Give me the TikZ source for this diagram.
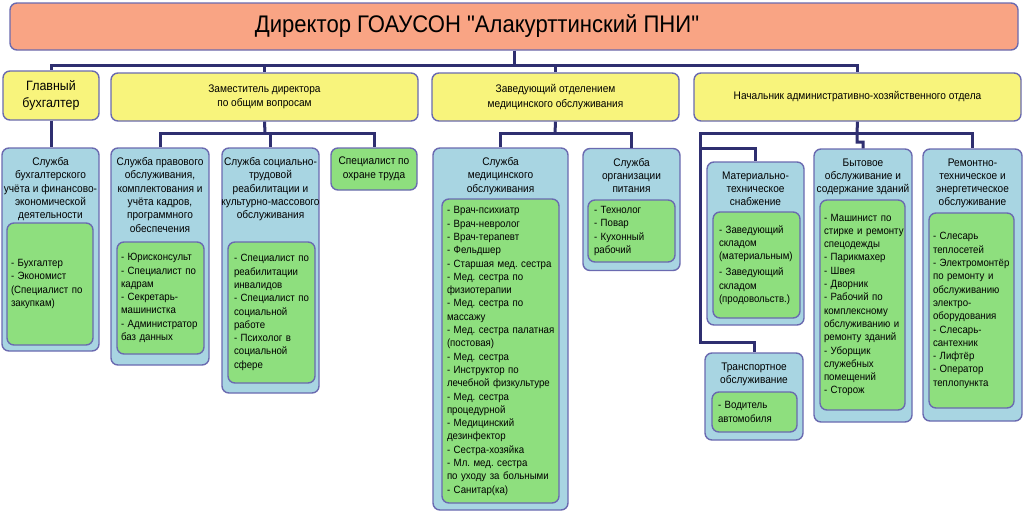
\documentclass[tikz,border=0pt]{standalone}
\usepackage{fontspec}
\setmainfont[FakeStretch=0.92, Ligatures=TeXOff]{Liberation Sans}
\frenchspacing
\exhyphenpenalty=10000
\hyphenpenalty=10000
\definecolor{dirsalmon}{RGB}{249, 164, 132}
\definecolor{headyellow}{RGB}{248, 244, 124}
\definecolor{unitblue}{RGB}{168, 213, 226}
\definecolor{staffgreen}{RGB}{142, 223, 126}
\definecolor{framepurple}{RGB}{106, 106, 176}
\definecolor{linknavy}{RGB}{47, 47, 112}
\usepackage{tikz}
\usetikzlibrary{positioning, calc}

\begin{document}
\begin{tikzpicture}[x=1pt, y=-1pt,
  frame/.style={draw=framepurple, line width=1.4pt, rounded corners=7pt},
  dirbox/.style={frame, fill=dirsalmon, font=\fontsize{24}{28}\selectfont},
  headbox/.style={frame, fill=headyellow, align=center, font=\fontsize{11}{14.5}\selectfont},
  unitbox/.style={frame, fill=unitblue},
  unittitle/.style={align=center, inner sep=0pt, font=\fontsize{11}{13.3}\selectfont},
  staffbox/.style={frame, fill=staffgreen, align=left, inner xsep=4pt, font=\fontsize{10.5}{13.3}\selectfont},
  link/.style={draw=linknavy, line width=3pt}]

  \useasboundingbox (0, 0) rectangle (1024, 514);
  \fill[white] (0, 0) rectangle (1024, 514);

  % Top: the director
  \node[dirbox, minimum width=1008pt, minimum height=47pt] (dir) at (514, 26.5)
    {Директор ГОАУСОН "Алакурттинский ПНИ"\hspace*{74pt}};

  % Second row: deputies and heads
  \node[headbox, minimum width=96pt, minimum height=49pt, font=\fontsize{13.5}{16.5}\selectfont] (glbuh) at (51, 95.5)
    {Главный\\бухгалтер};
  \node[headbox, minimum width=307pt, minimum height=48pt] (zam) at (264.5, 97)
    {Заместитель директора\\по общим вопросам};
  \node[headbox, minimum width=247pt, minimum height=48pt] (zav) at (555.5, 97)
    {Заведующий отделением\\медицинского обслуживания};
  \node[headbox, minimum width=327pt, minimum height=48pt] (nach) at (857.5, 97)
    {Начальник административно-хозяйственного отдела};

  % Accounting
  \node[unitbox, minimum width=97pt, minimum height=203pt] (sbuh) at (50.5, 249.5) {};
  \node[unittitle, below=10pt of sbuh.north] (sbuhtitle)
    {Служба\\бухгалтерского\\учёта и финансово-\\экономической\\деятельности};
  \node[staffbox, text width=78pt, minimum height=122pt] (sbuhstaff) at (50, 284)
    {-~Бухгалтер\\-~Экономист\\(Специалист~по\\закупкам)};

  % Deputy for general matters
  \node[unitbox, minimum width=98pt, minimum height=217pt] (sprav) at (160, 256.5) {};
  \node[unittitle, below=10pt of sprav.north] (spravtitle)
    {Служба правового\\обслуживания,\\комплектования и\\учёта кадров,\\программного\\обеспечения};
  \node[staffbox, text width=79pt, minimum height=112pt] (spravstaff) at (160.5, 298)
    {-~Юрисконсульт\\-~Специалист~по\\кадрам\\-~Секретарь-\\машинистка\\-~Администратор\\баз~данных};

  \node[unitbox, minimum width=97pt, minimum height=245pt] (ssoc) at (270.5, 270.5) {};
  \node[unittitle, below=10pt of ssoc.north] (ssoctitle)
    {Служба социально-\\трудовой\\реабилитации и\\культурно-массового\\обслуживания};
  \node[staffbox, inner xsep=6pt, text width=75pt, minimum height=141pt] (ssocstaff) at (271.5, 312.5)
    {-~Специалист~по\\реабилитации\\инвалидов\\-~Специалист~по\\социальной\\работе\\-~Психолог~в\\социальной\\сфере};

  \node[staffbox, align=center, inner xsep=2pt, minimum width=86pt, minimum height=42pt, font=\fontsize{11}{14}\selectfont] (ohr) at (374, 169)
    {Специалист по\\охране труда};

  % Medical department
  \node[unitbox, minimum width=135pt, minimum height=362pt] (smed) at (500.5, 329) {};
  \node[unittitle, below=10pt of smed.north] (smedtitle)
    {Служба\\медицинского\\обслуживания};
  \node[staffbox, inner xsep=5pt, text width=107pt, minimum height=304pt] (smedstaff) at (500.5, 351)
    {-~Врач-психиатр\\-~Врач-невролог\\-~Врач-терапевт\\-~Фельдшер\\-~Старшая~мед.~сестра\\-~Мед.~сестра~по\\физиотерапии\\-~Мед.~сестра~по\\массажу\\-~Мед.~сестра~палатная\\(постовая)\\-~Мед.~сестра\\-~Инструктор~по\\лечебной~физкультуре\\-~Мед.~сестра\\процедурной\\-~Медицинский\\дезинфектор\\-~Сестра-хозяйка\\-~Мл.~мед.~сестра\\по~уходу~за~больными\\-~Санитар(ка)};

  \node[unitbox, minimum width=97pt, minimum height=122pt] (spit) at (631.5, 209.5) {};
  \node[unittitle, below=10pt of spit.north] (spittitle)
    {Служба\\организации\\питания};
  \node[staffbox, inner xsep=6pt, text width=75pt, minimum height=62pt] (spitstaff) at (631.5, 231)
    {-~Технолог\\-~Повар\\-~Кухонный\\рабочий};

  % Administrative department
  \node[unitbox, minimum width=97pt, minimum height=163pt] (smat) at (755.5, 243.5) {};
  \node[unittitle, below=10pt of smat.north] (smattitle)
    {Материально-\\техническое\\снабжение};
  \node[staffbox, inner xsep=6pt, text width=75pt, minimum height=106pt] (smatstaff) at (756.5, 265)
    {-~Заведующий\\складом\\(материальным)\\[3pt]-~Заведующий\\складом\\(продовольств.)};

  \node[unitbox, minimum width=98pt, minimum height=87pt] (strans) at (754, 396.5) {};
  \node[unittitle, below=10pt of strans.north] (stranstitle)
    {Транспортное\\обслуживание};
  \node[staffbox, inner xsep=6pt, text width=73pt, minimum height=40pt] (stransstaff) at (754.5, 412)
    {-~Водитель\\автомобиля};

  \node[unitbox, minimum width=98pt, minimum height=273pt] (sbyt) at (863, 285.5) {};
  \node[unittitle, below=10pt of sbyt.north] (sbyttitle)
    {Бытовое\\обслуживание и\\содержание зданий};
  \node[staffbox, text width=77pt, minimum height=210pt] (sbytstaff) at (862.5, 305)
    {-~Машинист~по\\стирке~и~ремонту\\спецодежды\\-~Парикмахер\\-~Швея\\-~Дворник\\-~Рабочий~по\\комплексному\\обслуживанию~и\\ремонту~зданий\\-~Уборщик\\служебных\\помещений\\-~Сторож};

  \node[unitbox, minimum width=99pt, minimum height=272pt] (srem) at (972.5, 285) {};
  \node[unittitle, below=10pt of srem.north] (sremtitle)
    {Ремонтно-\\техническое и\\энергетическое\\обслуживание};
  \node[staffbox, text width=77pt, minimum height=195pt] (sremstaff) at (971.5, 310.5)
    {-~Слесарь\\теплосетей\\-~Электромонтёр\\по~ремонту~и\\обслуживанию\\электро-\\оборудования\\-~Слесарь-\\сантехник\\-~Лифтёр\\-~Оператор\\теплопункта};

  % Connectors
  \coordinate (dirfork) at (514, 65);
  \draw[link] (dir.south) -- (dirfork);
  \draw[link] (dirfork) -| (glbuh.north);
  \draw[link] (dirfork) -| (zam.north);
  \draw[link] (dirfork) -| (zav.north);
  \draw[link] (dirfork) -| (nach.north);

  \draw[link] (glbuh.south) -- (glbuh.south |- sbuh.north);

  \coordinate (zamfork) at (265, 133);
  \draw[link] (zam.south) -- (zamfork);
  \draw[link] (zamfork) -| (sprav.north);
  \draw[link] (zamfork) -| (ssoc.north);
  \draw[link] (zamfork) -| (ohr.north);

  \coordinate (zavfork) at (555, 133);
  \draw[link] (zav.south) -- (zavfork);
  \draw[link] (zavfork) -| (smed.north);
  \draw[link] (zavfork) -| (spit.north);

  \coordinate (nachfork) at (857, 133);
  \coordinate (nachleft) at (700, 133);
  \draw[link] (nach.south) -- (nachfork) -- ++(0, 9) -| (sbyt.north);
  \draw[link] (nachfork) -| (srem.north);
  \draw[link] (nachfork) -- (nachleft) -- ($(nachleft)+(0, 209)$) -| (strans.north);
  \draw[link] ($(nachleft)+(0, 15)$) -| (smat.north);
\end{tikzpicture}
\end{document}
